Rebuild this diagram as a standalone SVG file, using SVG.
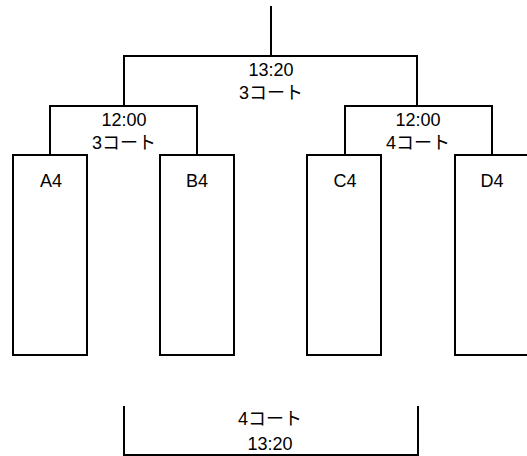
<svg xmlns="http://www.w3.org/2000/svg" width="527" height="456" viewBox="0 0 527 456">
<style>
.ln{fill:none;stroke:#000;stroke-width:2}
.bx{fill:#fff;stroke:#000;stroke-width:2}
text{font-family:"Liberation Sans","Noto Sans CJK JP",sans-serif;font-size:18px;fill:#000;text-anchor:middle}
</style>
<rect width="527" height="456" fill="#fff"/>
<g id="connectors">
<path class="ln" d="M271,6 V56 M124,106 V56 H417 V106"/>
<path class="ln" d="M50,155 V106 H197 V155"/>
<path class="ln" d="M345,155 V106 H492 V155"/>
<path class="ln" d="M124,406 V455 H418 V406"/>
</g>
<g id="label-top"><text x="271" y="76">13:20</text><text x="271" y="99">3コート</text></g>
<g id="label-left"><text x="124" y="126">12:00</text><text x="124" y="149">3コート</text></g>
<g id="label-right"><text x="418" y="126">12:00</text><text x="418" y="149">4コート</text></g>
<g id="label-bottom"><text x="270" y="425">4コート</text><text x="270" y="450">13:20</text></g>
<g id="A4"><rect class="bx" x="13" y="155" width="74" height="200"/><text x="51" y="187">A4</text></g>
<g id="B4"><rect class="bx" x="160" y="155" width="74" height="200"/><text x="197" y="187">B4</text></g>
<g id="C4"><rect class="bx" x="307" y="155" width="74" height="200"/><text x="345" y="187">C4</text></g>
<g id="D4"><rect class="bx" x="455" y="155" width="74" height="200"/><text x="492" y="187">D4</text></g>
</svg>
